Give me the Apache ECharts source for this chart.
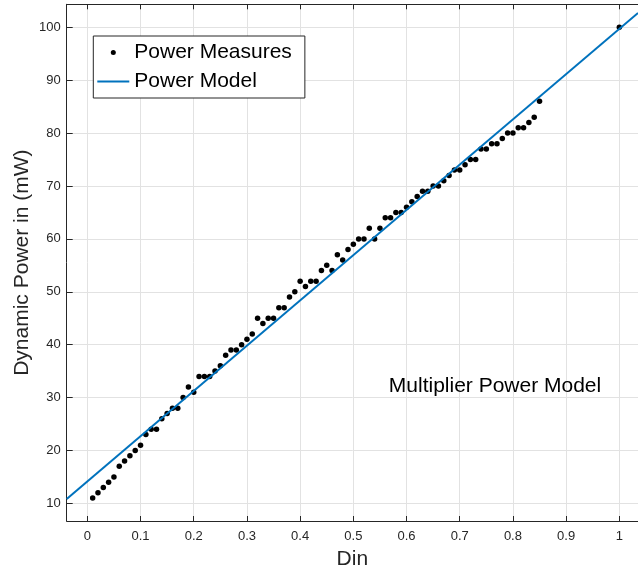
<!DOCTYPE html>
<html><head><meta charset="utf-8">
<script src="https://cdn.jsdelivr.net/npm/echarts@6/dist/echarts.min.js"></script>
<style>html,body{margin:0;padding:0;background:#fff}#c{width:638px;height:576px}</style>
</head><body><div id="c"></div>
<script>
// ---- data ----
const din = [0.01,0.02,0.03,0.04,0.05,0.06,0.07,0.08,0.09,0.10,
  0.11,0.12,0.13,0.14,0.15,0.16,0.17,0.18,0.19,0.20,
  0.21,0.22,0.23,0.24,0.25,0.26,0.27,0.28,0.29,0.30,
  0.31,0.32,0.33,0.34,0.35,0.36,0.37,0.38,0.39,0.40,
  0.41,0.42,0.43,0.44,0.45,0.46,0.47,0.48,0.49,0.50,
  0.51,0.52,0.53,0.54,0.55,0.56,0.57,0.58,0.59,0.60,
  0.61,0.62,0.63,0.64,0.65,0.66,0.67,0.68,0.69,0.70,
  0.71,0.72,0.73,0.74,0.75,0.76,0.77,0.78,0.79,0.80,
  0.81,0.82,0.83,0.84,0.85,1.00];
const powerMeasures = [11,12,13,14,15,17,18,19,20,21,
  23,24,24,26,27,28,28,30,32,31,
  34,34,34,35,36,38,39,39,40,41,
  42,45,44,45,45,47,47,49,50,52,
  51,52,52,54,55,54,57,56,58,59,
  60,60,62,60,62,64,64,65,65,66,
  67,68,69,69,70,70,71,72,73,73,
  74,75,75,77,77,78,78,79,80,80,
  81,81,82,83,86,100];
const modelDin = [-0.0388, 1.0351];
const modelPower = [10.8, 102.7];
const xTicks = [0,0.1,0.2,0.3,0.4,0.5,0.6,0.7,0.8,0.9,1];
const yTicks = [10,20,30,40,50,60,70,80,90,100];
const seriesNames = ['Power Measures', 'Power Model'];
const xTitle = 'Din';
const yTitle = 'Dynamic Power in (mW)';
const annotation = 'Multiplier Power Model';

// ---- chart ----
const FONT = '"Liberation Sans", Arial, Helvetica, sans-serif';
const AX = '#262626';
const GRIDC = '#e2e2e2';
const X_MIN = -0.0388, X_MAX = 1.0351, Y_MIN = 6.66, Y_MAX = 104.35;

const chart = echarts.init(document.getElementById('c'), null, {renderer: 'canvas'});
chart.setOption({
  animation: false,
  backgroundColor: '#ffffff',
  textStyle: {fontFamily: FONT},
  grid: {left: 66.7, top: 4.3, width: 571.3, height: 516.7, containLabel: false},
  xAxis: [{
    type: 'value', position: 'bottom', min: X_MIN, max: X_MAX,
    name: xTitle, nameLocation: 'middle', nameGap: 28, nameMoveOverlap: false,
    nameTextStyle: {fontSize: 21, color: AX, fontFamily: FONT},
    axisLine: {show: true, onZero: false, lineStyle: {color: AX, width: 1}},
    axisTick: {show: true, inside: true, length: 5, customValues: xTicks, lineStyle: {color: AX, width: 1}},
    axisLabel: {show: true, customValues: xTicks, margin: 9, fontSize: 13, color: AX, fontFamily: FONT,
      formatter: v => String(v)},
    splitLine: {show: true, lineStyle: {color: GRIDC, width: 1}}
  }, {
    type: 'value', position: 'top', min: X_MIN, max: X_MAX,
    axisLine: {show: true, onZero: false, lineStyle: {color: AX, width: 1}},
    axisTick: {show: true, inside: true, length: 5, customValues: xTicks, lineStyle: {color: AX, width: 1}},
    axisLabel: {show: false},
    splitLine: {show: false}
  }],
  yAxis: [{
    type: 'value', position: 'left', min: Y_MIN, max: Y_MAX,
    name: yTitle, nameLocation: 'middle', nameGap: 34, nameRotate: 90, nameMoveOverlap: false,
    nameTextStyle: {fontSize: 21, color: AX, fontFamily: FONT},
    axisLine: {show: true, onZero: false, lineStyle: {color: AX, width: 1}},
    axisTick: {show: true, inside: true, length: 6, customValues: yTicks, lineStyle: {color: AX, width: 1}},
    axisLabel: {show: true, customValues: yTicks, margin: 6, fontSize: 13, color: AX, fontFamily: FONT},
    splitLine: {show: true, lineStyle: {color: GRIDC, width: 1}}
  }],
  legend: {
    orient: 'vertical', left: 93.3, top: 36,
    data: [
      {name: seriesNames[0], icon: 'circle'},
      {name: seriesNames[1], icon: 'path://M0,0H32V2H0Z'}
    ],
    itemWidth: 32, itemHeight: 5, itemGap: 8,
    padding: [6, 13, 6, 4],
    borderColor: AX, borderWidth: 1, backgroundColor: '#ffffff',
    textStyle: {fontSize: 21, color: '#000', fontFamily: FONT},
    selectedMode: false
  },
  graphic: [{
    type: 'text', x: 495, y: 386, z: 100,
    style: {text: annotation, fill: '#000', font: '21px ' + FONT, align: 'center', verticalAlign: 'middle'}
  }],
  series: [{
    name: seriesNames[0], type: 'scatter', xAxisIndex: 0, yAxisIndex: 0,
    symbol: 'circle', symbolSize: 5.5,
    itemStyle: {color: '#000', opacity: 1},
    data: din.map((d, i) => [d, powerMeasures[i]])
  }, {
    name: seriesNames[1], type: 'line', xAxisIndex: 0, yAxisIndex: 0,
    showSymbol: false, symbol: 'none', clip: true,
    lineStyle: {color: '#0072BD', width: 2},
    itemStyle: {color: '#0072BD'},
    data: modelDin.map((d, i) => [d, modelPower[i]])
  }]
});
</script></body></html>
